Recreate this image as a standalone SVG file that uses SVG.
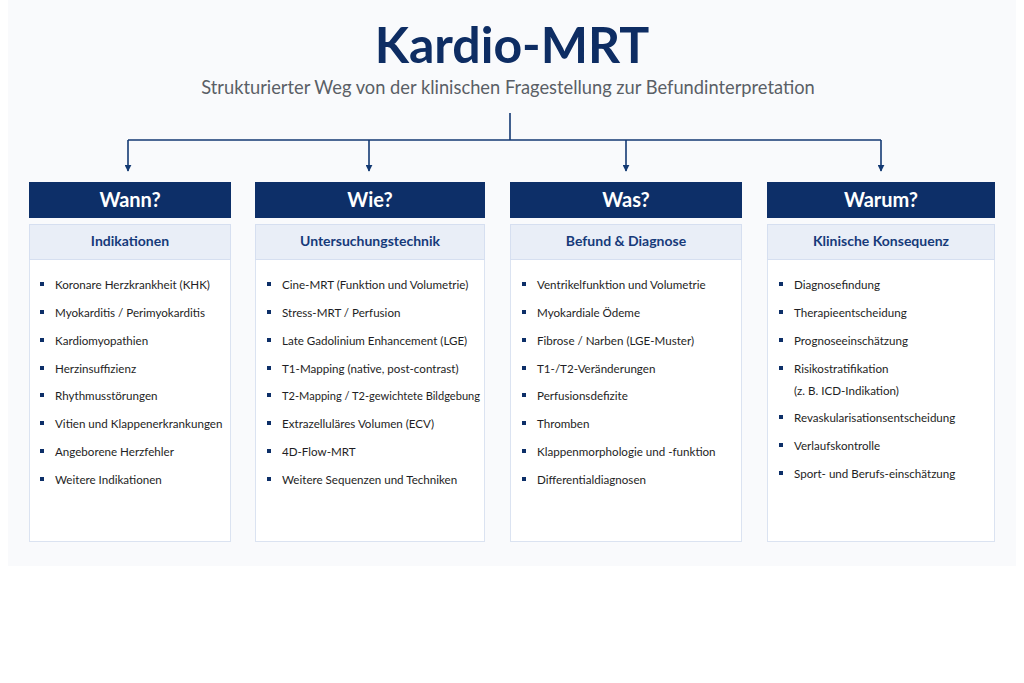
<svg xmlns="http://www.w3.org/2000/svg" width="1024" height="683" viewBox="0 0 1024 683">
<style>
.title{font-family:Lato,"Open Sans",sans-serif;font-weight:700;font-size:50px;fill:#0e2d63}
.sub{font-family:Lato,"Open Sans",sans-serif;font-size:18.3px;fill:#5a5f66}
.hdr{fill:#0d2f68}
.hdrt{font-family:Lato,"Open Sans",sans-serif;font-weight:700;font-size:20px;fill:#ffffff}
.subbox{fill:#e9eef7;stroke:#d6dff0;stroke-width:1}
.subt{font-family:Lato,"Open Sans",sans-serif;font-weight:700;font-size:14px;fill:#163a7a}
.body{fill:#ffffff;stroke:#dbe3f1;stroke-width:1}
.item{font-family:Lato,"Open Sans",sans-serif;font-size:11.6px;fill:#1e1e24}
.bul{fill:#0d2f68}
.conn{stroke:#143a73;stroke-width:1.6;fill:none}
</style>
<defs>
<marker id="arr" viewBox="0 0 10 10" refX="9" refY="5" markerWidth="7" markerHeight="7" orient="auto" markerUnits="userSpaceOnUse">
<path d="M0,0 L10,5 L0,10 z" fill="#143a73"/>
</marker>
</defs>
<rect x="0" y="0" width="1024" height="683" fill="#ffffff"/>
<rect x="8" y="0" width="1008" height="566" fill="#f9fafc"/>
<g id="title">
<text class="title" x="512" y="63" text-anchor="middle">Kardio-MRT</text>
<text class="sub" x="508" y="94" text-anchor="middle">Strukturierter Weg von der klinischen Fragestellung zur Befundinterpretation</text>
</g>
<g id="connectors">
<path class="conn" d="M510,113 V140 M128,140 H881"/>
<path class="conn" d="M128,140 V171" marker-end="url(#arr)"/>
<path class="conn" d="M369,140 V171" marker-end="url(#arr)"/>
<path class="conn" d="M626,140 V171" marker-end="url(#arr)"/>
<path class="conn" d="M881,140 V171" marker-end="url(#arr)"/>
</g>
<g id="col-wann">
<rect class="hdr" x="29" y="182" width="202" height="36"/>
<text class="hdrt" x="130" y="207" text-anchor="middle">Wann?</text>
<rect class="body" x="29.5" y="224.5" width="201" height="317"/>
<rect class="subbox" x="29.5" y="224.5" width="201" height="35"/>
<text class="subt" x="130" y="246" text-anchor="middle">Indikationen</text>
<g class="bul">
<rect x="40" y="282" width="4" height="4"/><rect x="40" y="310" width="4" height="4"/><rect x="40" y="338" width="4" height="4"/><rect x="40" y="366" width="4" height="4"/><rect x="40" y="393" width="4" height="4"/><rect x="40" y="421" width="4" height="4"/><rect x="40" y="449" width="4" height="4"/><rect x="40" y="477" width="4" height="4"/>
</g>
<text class="item" x="55" y="289">Koronare Herzkrankheit (KHK)</text>
<text class="item" x="55" y="317">Myokarditis / Perimyokarditis</text>
<text class="item" x="55" y="345">Kardiomyopathien</text>
<text class="item" x="55" y="373">Herzinsuffizienz</text>
<text class="item" x="55" y="400">Rhythmusstörungen</text>
<text class="item" x="55" y="428">Vitien und Klappenerkrankungen</text>
<text class="item" x="55" y="456">Angeborene Herzfehler</text>
<text class="item" x="55" y="484">Weitere Indikationen</text>
</g>
<g id="col-wie">
<rect class="hdr" x="255" y="182" width="230" height="36"/>
<text class="hdrt" x="370" y="207" text-anchor="middle">Wie?</text>
<rect class="body" x="255.5" y="224.5" width="229" height="317"/>
<rect class="subbox" x="255.5" y="224.5" width="229" height="35"/>
<text class="subt" x="370" y="246" text-anchor="middle">Untersuchungstechnik</text>
<g class="bul">
<rect x="267" y="282" width="4" height="4"/><rect x="267" y="310" width="4" height="4"/><rect x="267" y="338" width="4" height="4"/><rect x="267" y="366" width="4" height="4"/><rect x="267" y="393" width="4" height="4"/><rect x="267" y="421" width="4" height="4"/><rect x="267" y="449" width="4" height="4"/><rect x="267" y="477" width="4" height="4"/>
</g>
<text class="item" x="282" y="289">Cine-MRT (Funktion und Volumetrie)</text>
<text class="item" x="282" y="317">Stress-MRT / Perfusion</text>
<text class="item" x="282" y="345">Late Gadolinium Enhancement (LGE)</text>
<text class="item" x="282" y="373">T1-Mapping (native, post-contrast)</text>
<text class="item" x="282" y="400" textLength="198" lengthAdjust="spacingAndGlyphs">T2-Mapping / T2-gewichtete Bildgebung</text>
<text class="item" x="282" y="428">Extrazelluläres Volumen (ECV)</text>
<text class="item" x="282" y="456">4D-Flow-MRT</text>
<text class="item" x="282" y="484">Weitere Sequenzen und Techniken</text>
</g>
<g id="col-was">
<rect class="hdr" x="510" y="182" width="232" height="36"/>
<text class="hdrt" x="626" y="207" text-anchor="middle">Was?</text>
<rect class="body" x="510.5" y="224.5" width="231" height="317"/>
<rect class="subbox" x="510.5" y="224.5" width="231" height="35"/>
<text class="subt" x="626" y="246" text-anchor="middle">Befund &amp; Diagnose</text>
<g class="bul">
<rect x="522" y="282" width="4" height="4"/><rect x="522" y="310" width="4" height="4"/><rect x="522" y="338" width="4" height="4"/><rect x="522" y="366" width="4" height="4"/><rect x="522" y="393" width="4" height="4"/><rect x="522" y="421" width="4" height="4"/><rect x="522" y="449" width="4" height="4"/><rect x="522" y="477" width="4" height="4"/>
</g>
<text class="item" x="537" y="289">Ventrikelfunktion und Volumetrie</text>
<text class="item" x="537" y="317">Myokardiale Ödeme</text>
<text class="item" x="537" y="345">Fibrose / Narben (LGE-Muster)</text>
<text class="item" x="537" y="373">T1-/T2-Veränderungen</text>
<text class="item" x="537" y="400">Perfusionsdefizite</text>
<text class="item" x="537" y="428">Thromben</text>
<text class="item" x="537" y="456">Klappenmorphologie und -funktion</text>
<text class="item" x="537" y="484">Differentialdiagnosen</text>
</g>
<g id="col-warum">
<rect class="hdr" x="767" y="182" width="228" height="36"/>
<text class="hdrt" x="881" y="207" text-anchor="middle">Warum?</text>
<rect class="body" x="767.5" y="224.5" width="227" height="317"/>
<rect class="subbox" x="767.5" y="224.5" width="227" height="35"/>
<text class="subt" x="881" y="246" text-anchor="middle">Klinische Konsequenz</text>
<g class="bul">
<rect x="779" y="282" width="4" height="4"/><rect x="779" y="310" width="4" height="4"/><rect x="779" y="338" width="4" height="4"/><rect x="779" y="366" width="4" height="4"/><rect x="779" y="415" width="4" height="4"/><rect x="779" y="443" width="4" height="4"/><rect x="779" y="471" width="4" height="4"/>
</g>
<text class="item" x="794" y="289">Diagnosefindung</text>
<text class="item" x="794" y="317">Therapieentscheidung</text>
<text class="item" x="794" y="345">Prognoseeinschätzung</text>
<text class="item" x="794" y="373">Risikostratifikation</text>
<text class="item" x="794" y="395">(z. B. ICD-Indikation)</text>
<text class="item" x="794" y="422">Revaskularisationsentscheidung</text>
<text class="item" x="794" y="450">Verlaufskontrolle</text>
<text class="item" x="794" y="478">Sport- und Berufs-einschätzung</text>
</g>
</svg>
